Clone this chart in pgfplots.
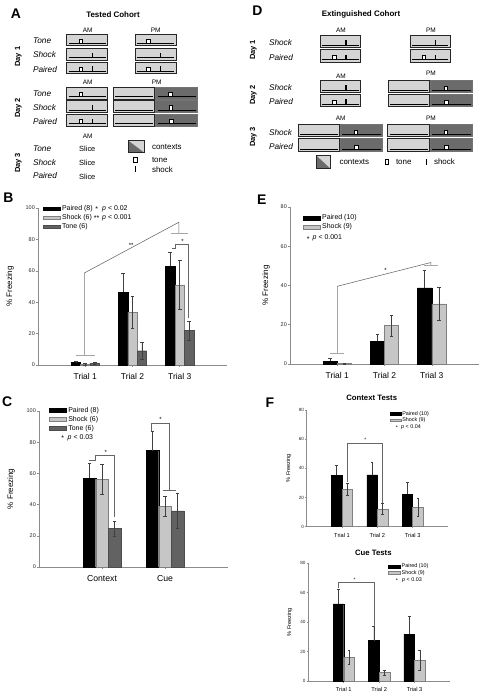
\documentclass[border=0pt]{standalone}
\usepackage{fontspec}
\setmainfont{Liberation Sans}
\usepackage{pgfplots}
\usepackage{pgfplotstable}
\pgfplotsset{compat=1.18}
\newcommand{\fs}[1]{\fontsize{#1}{#1}\selectfont}
\definecolor{lightc}{HTML}{D4D4D4}
\definecolor{darkc}{HTML}{6B6B6B}
\definecolor{shockc}{HTML}{C6C6C6}
\definecolor{tonec}{HTML}{626262}
\definecolor{axc}{HTML}{8C8C8C}

\tikzset{
 sig/.style={draw=black!60, line width=0.55bp},
 sigl/.style={draw=black!35, line width=0.8bp},
}
\pgfplotsset{
 panel/.style={
  scale only axis, axis lines=left, axis line style={-, draw=axc, line width=0.6bp},
  tick align=outside, major tick length=2bp, tick style={draw=axc, line width=0.5bp},
  ymin=0, ybar, clip=false,
  /pgf/number format/assume math mode=true,
  yticklabel style={font=\fs{5.5}, text=black!85, inner sep=1bp},
  xticklabel style={font=\fs{8.5}, inner sep=2bp, yshift=-4.5bp},
  ylabel style={font=\fs{8}, anchor=center},
  legend image code/.code={\draw[##1] (0bp,-1.8bp) rectangle (17bp,1.8bp);},
  legend style={draw=none, fill=none, font=\fs{7}, anchor=north west, inner sep=0pt, row sep=1.2bp,
    nodes={inner xsep=1.5bp, inner ysep=0.6bp}, cells={anchor=west}},
  legend cell align=left,
  error bars/error bar style={draw=black!75, line width=0.5bp},
  error bars/error mark options={rotate=90, mark size=1.8bp, draw=black!75, line width=0.5bp},
 },
 pbar/.style={fill=black, draw=black, line width=0.4bp},
 sbar/.style={fill=shockc, draw=black!50, line width=0.4bp},
 tbar/.style={fill=tonec, draw=black!70, line width=0.4bp},
}

\pgfplotstableread{
x p pe s se t te
1 1.6 0.6 0.6 0.5 1.0 0.5
2 46.3 12.1 33.5 10.0 9.1 5.4
3 62.9 8.9 50.8 15.6 21.9 6.0
}\Bdata
\pgfplotstableread{
x p pe s se t te
1 56.9 9.6 56.2 9.5 24.6 4.6
2 74.6 12.6 38.9 6.5 35.9 11.3
}\Cdata
\pgfplotstableread{
x p pe s se
1 1.5 1.5 0.3 0.2
2 11.6 3.4 19.6 5.3
3 38.8 8.8 30.6 8.4
}\Edata
\pgfplotstableread{
x p pe s se
1 35.2 6.8 25.6 4.1
2 35.6 8.4 12.1 3.8
3 22.4 8.0 13.3 6.3
}\FCdata
\pgfplotstableread{
x p pe s se
1 52.4 10.0 16.1 4.8
2 27.4 9.8 5.7 1.6
3 31.8 12.2 14.1 6.9
}\FQdata

\newcommand{\ctxL}[4]{\filldraw[fill=lightc,draw=black!85,line width=0.6bp] (#1,#2) rectangle (#3,#4); \draw[line width=0.8bp] ({#1+1.8},{#4-2.2}) -- ({#3-1.8},{#4-2.2});}
\newcommand{\ctxD}[4]{\filldraw[fill=darkc,draw=black!55,line width=0.6bp] (#1,#2) rectangle (#3,#4); \draw[line width=0.8bp] ({#1+1.8},{#4-2.2}) -- ({#3-1.8},{#4-2.2});}
\newcommand{\tmark}[2]{\filldraw[fill=white,draw=black,line width=0.6bp] ({#1-1.8},{#2-2.2}) rectangle ({#1+1.8},{#2-6.6});}
\newcommand{\smark}[2]{\draw[line width=1.1bp] (#1,{#2-2.2}) -- (#1,{#2-7.2});}

\begin{document}
\begin{tikzpicture}[x=1bp,y=1bp]
\useasboundingbox (0bp,0bp) rectangle (481bp,694bp);

% ---------------- B ----------------
\begin{axis}[panel, at={(38bp,329bp)}, anchor=south west, width=189bp, height=157bp,
  xmin=0, xmax=4, ymax=100, ytick={0,20,40,60,80,100}, xtick={1,2,3},
  xticklabels={Trial 1,Trial 2,Trial 3},
  ylabel={\% Freezing}, ylabel style={at={(axis description cs:-0.148,0.5)}},
  legend style={at={(axis description cs:0.026,1.022)}}]
\addplot[pbar, bar width=0.2, bar shift=-0.2, error bars/.cd, y dir=plus, y explicit] table[x=x,y=p,y error=pe]{\Bdata};
\addlegendentry{Paired (8)}
\addplot[sbar, bar width=0.2, bar shift=0, error bars/.cd, y dir=both, y explicit] table[x=x,y=s,y error=se]{\Bdata};
\addlegendentry{Shock (6)}
\addplot[tbar, bar width=0.2, bar shift=0.2, error bars/.cd, y dir=both, y explicit] table[x=x,y=t,y error=te]{\Bdata};
\addlegendentry{Tone (6)}
\draw[sigl] (axis cs:0.8,6) -- (axis cs:1.2,6);
\draw[sigl] (axis cs:0.98,6) -- (axis cs:0.98,58.6);
\draw[sig] (axis cs:0.98,58.6) -- (axis cs:2.98,90.9) -- (axis cs:2.98,83.9);
\draw[sigl] (axis cs:2.81,83.9) -- (axis cs:3.17,83.9);
\node[font=\fs{6}] at (axis cs:1.97,76) {**};
\draw[sig] (axis cs:2.83,74.3) -- (axis cs:2.91,74.3) -- (axis cs:2.91,76.9) -- (axis cs:3.19,76.9) -- (axis cs:3.19,30.1);
\node[font=\fs{6}] at (axis cs:3.06,78.5) {*};
\end{axis}

% ---------------- C ----------------
\begin{axis}[panel, at={(39bp,127bp)}, anchor=south west, width=189bp, height=156bp,
  xmin=0, xmax=3, ymax=100, ytick={0,20,40,60,80,100}, xtick={1,2},
  xticklabels={Context,Cue}, xticklabel style={font=\fs{8.7}},
  ylabel={\% Freezing}, ylabel style={at={(axis description cs:-0.148,0.5)}},
  legend style={at={(axis description cs:0.054,1.03)}}]
\addplot[pbar, bar width=0.2, bar shift=-0.2, error bars/.cd, y dir=plus, y explicit] table[x=x,y=p,y error=pe]{\Cdata};
\addlegendentry{Paired (8)}
\addplot[sbar, bar width=0.2, bar shift=0, error bars/.cd, y dir=both, y explicit] table[x=x,y=s,y error=se]{\Cdata};
\addlegendentry{Shock (6)}
\addplot[tbar, bar width=0.2, bar shift=0.2, error bars/.cd, y dir=both, y explicit] table[x=x,y=t,y error=te]{\Cdata};
\addlegendentry{Tone (6)}
\draw[sig] (axis cs:0.8,68.6) -- (axis cs:0.9,68.6) -- (axis cs:0.9,71.3) -- (axis cs:1.19,71.3) -- (axis cs:1.19,32);
\node[font=\fs{6}] at (axis cs:1.06,73.5) {*};
\draw[sig] (axis cs:1.78,87.2) -- (axis cs:1.78,92) -- (axis cs:2.07,92) -- (axis cs:2.07,49.5);
\draw[sig] (axis cs:1.97,49.5) -- (axis cs:2.17,49.5);
\node[font=\fs{6}] at (axis cs:1.93,94.5) {*};
\end{axis}

% ---------------- E ----------------
\begin{axis}[panel, at={(290bp,330bp)}, anchor=south west, width=189bp, height=157bp,
  xmin=0, xmax=4, ymax=80, ytick={0,20,40,60,80}, xtick={1,2,3},
  xticklabels={Trial 1,Trial 2,Trial 3},
  ylabel={\% Freezing}, ylabel style={at={(axis description cs:-0.127,0.5)}},
  legend style={at={(axis description cs:0.069,0.955)}}]
\addplot[pbar, bar width=0.3, bar shift=-0.15, error bars/.cd, y dir=plus, y explicit] table[x=x,y=p,y error=pe]{\Edata};
\addlegendentry{Paired (10)}
\addplot[sbar, bar width=0.3, bar shift=0.15, error bars/.cd, y dir=both, y explicit] table[x=x,y=s,y error=se]{\Edata};
\addlegendentry{Shock (9)}
\draw[sigl] (axis cs:0.85,5.6) -- (axis cs:1.15,5.6);
\draw[sigl] (axis cs:1,5.6) -- (axis cs:1,39.6);
\draw[sig] (axis cs:1,39.6) -- (axis cs:2.98,51.7) -- (axis cs:2.98,50);
\draw[sigl] (axis cs:2.84,50) -- (axis cs:3.14,50);
\node[font=\fs{6}] at (axis cs:2.02,47.5) {*};
\end{axis}

% ---------------- F context ----------------
\begin{axis}[panel, at={(306.7bp,167.3bp)}, anchor=south west, width=141.3bp, height=116.7bp,
  xmin=0, xmax=4, ymax=80, ytick={0,20,40,60,80}, xtick={1,2,3},
  xticklabels={Trial 1,Trial 2,Trial 3}, xticklabel style={font=\fs{5.7}, yshift=1.5bp},
  yticklabel style={font=\fs{4.6}}, major tick length=1.6bp,
  ylabel={\% Freezing}, ylabel style={font=\fs{5.6}, at={(axis description cs:-0.127,0.5)}},
  legend image code/.code={\draw[#1] (0bp,-1.4bp) rectangle (10.5bp,1.4bp);},
  legend style={at={(axis description cs:0.59,0.995)}, font=\fs{5.4}, row sep=0.2bp, nodes={inner xsep=1.2bp, inner ysep=0.4bp}},
  error bars/error mark options={rotate=90, mark size=1.4bp, draw=black!75, line width=0.45bp}]
\addplot[pbar, bar width=0.3, bar shift=-0.15, error bars/.cd, y dir=plus, y explicit] table[x=x,y=p,y error=pe]{\FCdata};
\addlegendentry{Paired (10)}
\addplot[sbar, bar width=0.3, bar shift=0.15, error bars/.cd, y dir=both, y explicit] table[x=x,y=s,y error=se]{\FCdata};
\addlegendentry{Shock (9)}
\draw[sig] (axis cs:1.15,30.5) -- (axis cs:1.15,57) -- (axis cs:2.15,57) -- (axis cs:2.15,16.5);
\node[font=\fs{5}] at (axis cs:1.66,59.5) {*};
\end{axis}

% ---------------- F cue ----------------
\begin{axis}[panel, at={(308.3bp,13bp)}, anchor=south west, width=141.7bp, height=117.7bp,
  xmin=0, xmax=4, ymax=80, ytick={0,20,40,60,80}, xtick={1,2,3},
  xticklabels={Trial 1,Trial 2,Trial 3}, xticklabel style={font=\fs{5.7}, yshift=1.5bp},
  yticklabel style={font=\fs{4.6}}, major tick length=1.6bp,
  ylabel={\% Freezing}, ylabel style={font=\fs{5.6}, at={(axis description cs:-0.131,0.5)}},
  legend image code/.code={\draw[#1] (0bp,-1.4bp) rectangle (12bp,1.4bp);},
  legend style={at={(axis description cs:0.562,1.0)}, font=\fs{5.4}, row sep=0.2bp, nodes={inner xsep=1.2bp, inner ysep=0.4bp}},
  error bars/error mark options={rotate=90, mark size=1.4bp, draw=black!75, line width=0.45bp}]
\addplot[pbar, bar width=0.3, bar shift=-0.15, error bars/.cd, y dir=plus, y explicit] table[x=x,y=p,y error=pe]{\FQdata};
\addlegendentry{Paired (10)}
\addplot[sbar, bar width=0.3, bar shift=0.15, error bars/.cd, y dir=both, y explicit] table[x=x,y=s,y error=se]{\FQdata};
\addlegendentry{Shock (9)}
\draw[sig] (axis cs:0.85,63) -- (axis cs:0.85,67.1) -- (axis cs:1.85,67.1) -- (axis cs:1.85,37.5);
\node[font=\fs{5}] at (axis cs:1.31,68.8) {*};
\end{axis}

% ---------------- annotations & schematics (pixel coords, y down) ----------------
\begin{scope}[yshift=694bp, x=1bp, y=-1bp]
% panel letters
\node[font=\fs{14}\bfseries] at (16,13.3) {A};
\node[font=\fs{14}\bfseries] at (257.5,10.5) {D};
\node[font=\fs{14}\bfseries] at (8.5,198) {B};
\node[font=\fs{14}\bfseries] at (261.7,200) {E};
\node[font=\fs{14}\bfseries] at (7.2,401.7) {C};
\node[font=\fs{14}\bfseries] at (270,402.5) {F};
% F titles
\node[font=\fs{7.8}\bfseries] at (371.7,398.3) {Context Tests};
\node[font=\fs{7.8}\bfseries] at (373.3,553.3) {Cue Tests};
% p-value notes
\node[font=\fs{7}] at (96.7,209.5) {*};
\node[font=\fs{7}, anchor=west, inner sep=0] at (102,208.7) {\textit{p} < 0.02};
\node[font=\fs{7}] at (96.7,218.1) {**};
\node[font=\fs{7}, anchor=west, inner sep=0] at (102,217.3) {\textit{p} < 0.001};
\node[font=\fs{7}] at (62.7,438.5) {*};
\node[font=\fs{7}, anchor=west, inner sep=0] at (67.5,437.7) {\textit{p} < 0.03};
\node[font=\fs{7}] at (308.3,238.8) {*};
\node[font=\fs{7}, anchor=west, inner sep=0] at (312.5,238) {\textit{p} < 0.001};
\node[font=\fs{5.4}] at (397,428) {*};
\node[font=\fs{5.4}, anchor=west, inner sep=0] at (401,427.3) {\textit{p} < 0.04};
\node[font=\fs{5.4}] at (397,580.7) {*};
\node[font=\fs{5.4}, anchor=west, inner sep=0] at (402,580) {\textit{p} < 0.03};

% ===== Panel A =====
\node[font=\fs{8}\bfseries] at (113,14.7) {Tested Cohort};
\node[font=\fs{6.5}] at (87.7,30.7) {AM};
\node[font=\fs{6.5}] at (155.7,30.7) {PM};
% Day 1
\ctxL{66.7}{34.3}{107.3}{45.7} \tmark{80.8}{45.7}
\ctxL{66.7}{48.3}{107.3}{60} \smark{92.3}{60}
\ctxL{66.7}{62}{107.3}{73.7} \tmark{80.8}{73.7} \smark{92.3}{73.7}
\ctxL{135}{34.3}{176}{45.7} \tmark{148.5}{45.7}
\ctxL{135}{48.3}{176}{60} \smark{160.5}{60}
\ctxL{135}{62}{176}{73.7} \tmark{148.5}{73.7} \smark{160.5}{73.7}
\node[font=\fs{8.3}\itshape, anchor=west] at (29.5,41) {Tone};
\node[font=\fs{8.3}\itshape, anchor=west] at (29.5,55) {Shock};
\node[font=\fs{8.3}\itshape, anchor=west] at (29.5,69.3) {Paired};
\node[font=\fs{7.5}\bfseries, rotate=90] at (18.3,56.7) {Day 1};
% Day 2
\node[font=\fs{6.5}] at (87.7,82.7) {AM};
\node[font=\fs{6.5}] at (156.7,82.7) {PM};
\ctxL{66.7}{87.3}{107.3}{99} \tmark{80.8}{99}
\ctxL{66.7}{100.7}{107.3}{112.3} \smark{92.3}{112.3}
\ctxL{66.7}{114.3}{107.3}{126} \tmark{80.8}{126} \smark{92.3}{126}
\ctxL{113.3}{87.3}{154.3}{99}
\ctxL{113.3}{100.7}{154.3}{112.3}
\ctxL{113.3}{114.3}{154.3}{126}
\ctxD{155.7}{87.3}{197.7}{99} \tmark{170.3}{99}
\ctxD{155.7}{100.7}{197.7}{112.3} \tmark{170.7}{112.3}
\ctxD{155.7}{114.3}{197.7}{126} \tmark{171.5}{126}
\node[font=\fs{8.3}\itshape, anchor=west] at (29.5,94) {Tone};
\node[font=\fs{8.3}\itshape, anchor=west] at (29.5,108) {Shock};
\node[font=\fs{8.3}\itshape, anchor=west] at (29.5,122) {Paired};
\node[font=\fs{7.5}\bfseries, rotate=90] at (18.3,108) {Day 2};
% Day 3
\node[font=\fs{6.5}] at (87.7,136) {AM};
\node[font=\fs{8.3}\itshape, anchor=west] at (29.5,148.5) {Tone};
\node[font=\fs{8.3}\itshape, anchor=west] at (29.5,162.5) {Shock};
\node[font=\fs{8.3}\itshape, anchor=west] at (29.5,176) {Paired};
\node[font=\fs{7.5}] at (87.3,149) {Slice};
\node[font=\fs{7.5}] at (87.3,163.3) {Slice};
\node[font=\fs{7.5}] at (87.3,176.7) {Slice};
\node[font=\fs{7.5}\bfseries, rotate=90] at (18.3,163) {Day 3};
% legend A
\filldraw[fill=lightc,draw=black!85,line width=0.6bp] (128.3,140.7) rectangle (144.3,152.7);
\fill[darkc] (128.3,140.7) -- (144.3,152.7) -- (128.3,152.7) -- cycle;
\draw[draw=black!85,line width=0.6bp] (128.3,140.7) rectangle (144.3,152.7);
\node[font=\fs{8}, anchor=west] at (148.5,146.5) {contexts};
\filldraw[fill=white,draw=black,line width=0.6bp] (133.5,157.6) rectangle (137.1,162.4);
\node[font=\fs{8}, anchor=west] at (148.5,160) {tone};
\draw[line width=1.2bp] (135.3,166.3) -- (135.3,172);
\node[font=\fs{8}, anchor=west] at (148.5,169.3) {shock};

% ===== Panel D =====
\node[font=\fs{8}\bfseries] at (361,14) {Extinguished Cohort};
\node[font=\fs{6.5}] at (341,30) {AM};
\node[font=\fs{6.5}] at (431,30) {PM};
\ctxL{320}{35}{360.7}{47.7} \smark{346}{47.7}
\ctxL{320}{49.3}{360.7}{62} \tmark{334.3}{62} \smark{346}{62}
\ctxL{410}{35}{450}{47.7} \smark{435.5}{47.7}
\ctxL{410}{49.3}{450}{62} \tmark{423.8}{62} \smark{435.5}{62}
\node[font=\fs{8.3}\itshape, anchor=west] at (265.5,43) {Shock};
\node[font=\fs{8.3}\itshape, anchor=west] at (265.5,57.3) {Paired};
\node[font=\fs{7.5}\bfseries, rotate=90] at (253.3,50) {Day 1};
% Day 2
\node[font=\fs{6.5}] at (341,76) {AM};
\node[font=\fs{6.5}] at (431,73.3) {PM};
\ctxL{320}{80}{360.7}{92.7} \smark{346}{92.7}
\ctxL{320}{94}{360.7}{106.7} \tmark{334.3}{106.7} \smark{346}{106.7}
\ctxL{388.3}{80}{429.3}{92.7}
\ctxL{388.3}{94}{429.3}{106.7}
\ctxD{430.3}{80}{472.3}{92.7} \tmark{445.7}{92.7}
\ctxD{430.3}{94}{472.3}{106.7} \tmark{446.3}{106.7}
\node[font=\fs{8.3}\itshape, anchor=west] at (265.5,88) {Shock};
\node[font=\fs{8.3}\itshape, anchor=west] at (265.5,102) {Paired};
\node[font=\fs{7.5}\bfseries, rotate=90] at (253.3,95) {Day 2};
% Day 3
\node[font=\fs{6.5}] at (340.7,118.5) {AM};
\node[font=\fs{6.5}] at (431,118.5) {PM};
\ctxL{298.3}{124.3}{339.5}{136.7}
\ctxL{298.3}{138.3}{339.5}{151.7}
\ctxD{340.5}{124.3}{382.7}{136.7} \tmark{355.7}{136.7}
\ctxD{340.5}{138.3}{382.7}{151.7} \tmark{356.3}{151.7}
\ctxL{387.7}{124.3}{429.3}{136.7}
\ctxL{387.7}{138.3}{429.3}{151.7}
\ctxD{430.3}{124.3}{472.3}{136.7} \tmark{445.7}{136.7}
\ctxD{430.3}{138.3}{472.3}{151.7} \tmark{446.3}{151.7}
\node[font=\fs{8.3}\itshape, anchor=west] at (265.5,132.5) {Shock};
\node[font=\fs{8.3}\itshape, anchor=west] at (265.5,146.5) {Paired};
\node[font=\fs{7.5}\bfseries, rotate=90] at (253.3,137) {Day 3};
% legend D
\filldraw[fill=lightc,draw=black!85,line width=0.6bp] (316,155.3) rectangle (330,168.3);
\fill[darkc] (316,155.3) -- (330,168.3) -- (316,168.3) -- cycle;
\draw[draw=black!85,line width=0.6bp] (316,155.3) rectangle (330,168.3);
\node[font=\fs{8}, anchor=west] at (336,162) {contexts};
\filldraw[fill=white,draw=black,line width=0.6bp] (384.9,159.6) rectangle (388.5,164.4);
\node[font=\fs{8}, anchor=west] at (392.5,162) {tone};
\draw[line width=1.2bp] (426.7,159.2) -- (426.7,165);
\node[font=\fs{8}, anchor=west] at (430.5,162) {shock};
\end{scope}
\end{tikzpicture}
\end{document}
